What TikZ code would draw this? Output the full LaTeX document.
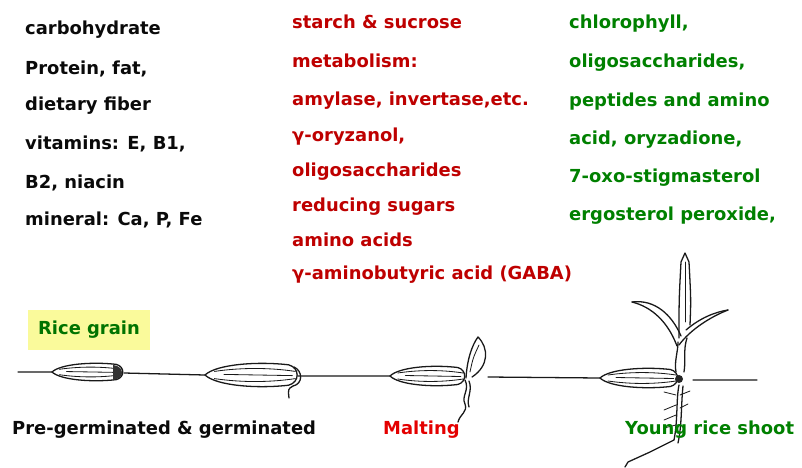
\documentclass[tikz,border=0pt]{standalone}
\usepackage{fontspec}
\setmainfont{DejaVu Sans}
\usetikzlibrary{calc}

\definecolor{nutblack}{RGB}{10,10,10}
\definecolor{germred}{RGB}{190,0,0}
\definecolor{maltred}{RGB}{228,0,0}
\definecolor{shootgreen}{RGB}{0,128,0}
\definecolor{tagyellow}{RGB}{250,250,155}

\tikzset{
  lbl/.style={anchor=base west, inner sep=0pt, font=\fontsize{15.3}{18}\bfseries\selectfont},
  sketch/.style={draw=black!90, line width=1.1pt, line cap=round, line join=round},
  vein/.style={sketch, line width=0.7pt},
  seed/.pic={
    \draw[sketch] (0,0) .. controls (0.12,-0.9) and (0.55,-1.15) .. (0.88,-0.85)
      .. controls (1.0,-0.6) and (1.0,0.6) .. (0.88,0.85)
      .. controls (0.55,1.15) and (0.12,0.9) .. (0,0) -- cycle;
    \draw[vein] (0.1,-0.3) .. controls (0.4,-0.65) and (0.7,-0.6) .. (0.95,-0.3);
    \draw[vein] (0.1,0.3) .. controls (0.4,0.65) and (0.7,0.6) .. (0.95,0.3);
    \draw[vein] (0.2,-0.05) -- (0.92,0.05);
  }
}

\begin{document}
\begin{tikzpicture}[x=0.03cm, y=-0.03cm]
  \useasboundingbox (0,0) rectangle (802,467);

  % what the grain holds, and what germination adds
  \foreach \t/\y [count=\i] in {carbohydrate/34, {Protein, fat,}/74, dietary fiber/110,
      {vitamins: E, B1,}/149, {B2, niacin}/188, {mineral: Ca, P, Fe}/225}
    \node[lbl, text=nutblack] (nut\i) at (25,\y) {\t};
  \foreach \t/\y [count=\i] in {starch \& sucrose/28, metabolism:/67,
      {amylase, invertase,etc.}/105, {γ-oryzanol,}/141, oligosaccharides/176,
      reducing sugars/211, amino acids/246, γ-aminobutyric acid (GABA)/279}
    \node[lbl, text=germred] (germ\i) at (292,\y) {\t};
  \foreach \t/\y [count=\i] in {{chlorophyll,}/28, {oligosaccharides,}/67,
      peptides and amino/106, {acid, oryzadione,}/144, 7-oxo-stigmasterol/182,
      {ergosterol peroxide,}/220}
    \node[lbl, text=shootgreen] (shoot\i) at (569,\y) {\t};

  \node[fill=tagyellow, minimum width=3.66cm, minimum height=1.2cm, inner sep=0pt,
    font=\fontsize{15.3}{18}\bfseries\selectfont, text=green!45!black] (tag) at (89,330) {Rice grain};

  % the seeds along the line
  \pic[xscale=73, yscale=9] at (52,372) {seed};
  \pic[xscale=95, yscale=12] at (205,375) {seed};
  \pic[xscale=77, yscale=10] at (390,376) {seed};
  \pic[xscale=80, yscale=10] at (600,378) {seed};

  \coordinate (l0) at (18,372);
  \coordinate (g1w) at (52,372);
  \coordinate (g1e) at (124,373);
  \coordinate (g2w) at (205,375);
  \coordinate (g2e) at (298,376);
  \coordinate (g3w) at (390,376);
  \coordinate (m1) at (488,377);
  \coordinate (g4w) at (600,378);
  \coordinate (s1) at (693,380);
  \coordinate (s2) at (757,380);
  \draw[sketch] (l0) -- (g1w) (g1e) -- (g2w) (g2e) -- (g3w) (m1) -- (g4w) (s1) -- (s2);

  \fill[black!80] (113,365) .. controls (124,366) and (126,378) .. (113,380) -- cycle;
  \draw[sketch] (294,367) .. controls (303,371) and (303,384) .. (293,386)
    .. controls (288,389) .. (289,398);

  % malting
  \draw[sketch] (466,378) .. controls (467,360) and (472,345) .. (478,337)
    .. controls (489,348) and (489,366) .. (472,377);
  \draw[vein] (470,372) .. controls (473,358) .. (479,345);
  \draw[sketch] (465,380) .. controls (470,390) and (461,396) .. (465,404)
    .. controls (468,412) and (460,414) .. (458,422);
  \draw[sketch] (469,381) .. controls (473,391) and (466,398) .. (469,407);

  % young shoot
  \fill[black!85] (679,379) circle[radius=4];
  \draw[sketch] (676,372) .. controls (674,362) and (678,352) .. (678,342);
  \draw[sketch] (684,372) .. controls (686,360) and (683,350) .. (687,338);
  \draw[sketch] (679,338) .. controls (679,300) .. (681,262) -- (685,253) -- (689,262)
    .. controls (691,300) .. (690,325);
  \draw[vein] (685,262) -- (685,322);
  \draw[sketch] (632,302) .. controls (655,299) and (672,315) .. (681,336);
  \draw[sketch] (632,302) .. controls (652,307) and (668,322) .. (677,346);
  \draw[sketch] (686,330) .. controls (700,318) and (715,312) .. (728,310);
  \draw[sketch] (679,345) .. controls (690,330) and (710,317) .. (728,310);
  \draw[sketch] (679,385) .. controls (676,400) and (678,420) .. (674,440)
    -- (650,452) -- (628,462) -- (625,467);
  \draw[sketch] (683,386) .. controls (681,405) and (682,425) .. (678,443);
  \foreach \a/\b in {395/392, 405/410, 415/420, 425/428}
    \draw[vein] (676,\a) -- (664,\b);
  \draw[vein] (680,395) -- (690,391);
  \draw[vein] (680,408) -- (688,404);

  \node[lbl, text=nutblack] (pregerm) at (12,434) {Pre-germinated \& germinated};
  \node[lbl, text=maltred] (malt) at (383,434) {Malting};
  \node[lbl, text=shootgreen] (young) at (625,434) {Young rice shoot};
\end{tikzpicture}
\end{document}
